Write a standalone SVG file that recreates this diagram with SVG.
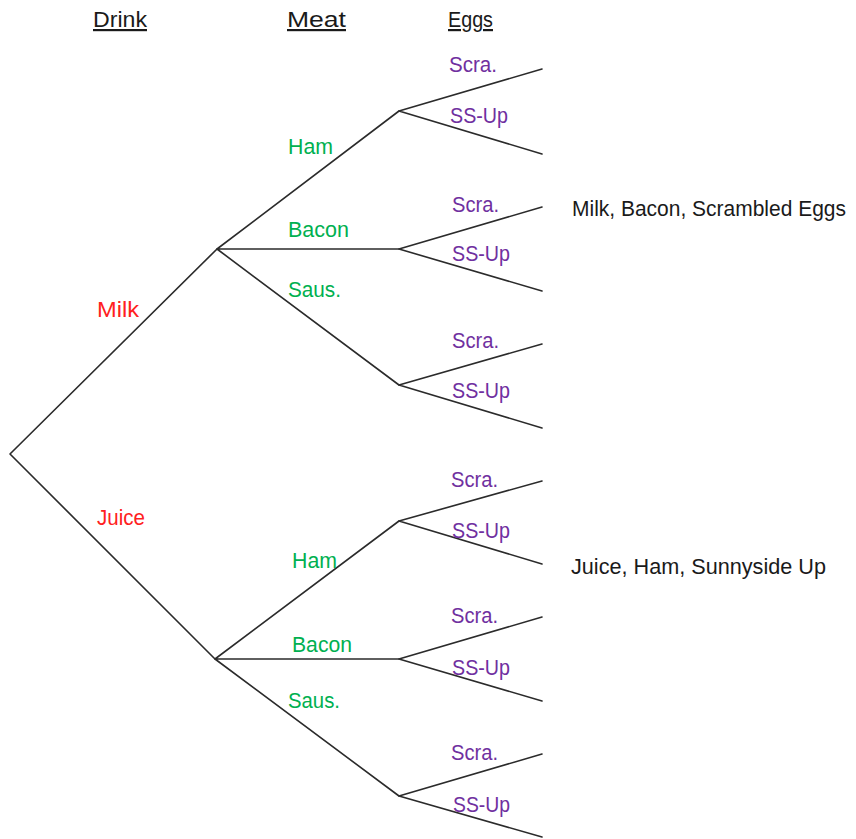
<svg xmlns="http://www.w3.org/2000/svg" width="856" height="839" viewBox="0 0 856 839">
<style>
text{font-family:"Liberation Sans",Arial,sans-serif;font-size:22px}
.hd{fill:#1a1a1a;text-decoration:underline}
.dr{fill:#ff2020}
.mt{fill:#00b050}
.eg{fill:#7030a0}
.res{fill:#1a1a1a}
.ln{stroke:#2b2b2b;stroke-width:1.6;fill:none;stroke-linecap:round}
</style>
<rect width="856" height="839" fill="#fff"/>
<g id="headers">
<text class="hd" x="93" y="27" textLength="54" lengthAdjust="spacingAndGlyphs">Drink</text>
<text class="hd" x="287" y="27" textLength="59" lengthAdjust="spacingAndGlyphs">Meat</text>
<text class="hd" x="448" y="27" textLength="45" lengthAdjust="spacingAndGlyphs">Eggs</text>
</g>
<g id="connectors" class="ln">
<path d="M10,454 L217,249 M10,454 L215,659"/>
<path d="M217,249 L399,111 M217,249 L399,249 M217,249 L399,385"/>
<path d="M215,659 L399,521 M215,659 L399,659 M215,659 L399,796"/>
<path d="M399,111 L542,69 M399,111 L542,154"/>
<path d="M399,249 L542,207 M399,249 L542,291"/>
<path d="M399,385 L542,344 M399,385 L542,428"/>
<path d="M399,521 L542,481 M399,521 L542,564"/>
<path d="M399,659 L542,617 M399,659 L542,701"/>
<path d="M399,796 L542,754 M399,796 L542,837"/>
</g>
<g id="drink-labels">
<text class="dr" x="97" y="317" textLength="42" lengthAdjust="spacingAndGlyphs">Milk</text>
<text class="dr" x="97" y="525" textLength="48" lengthAdjust="spacingAndGlyphs">Juice</text>
</g>
<g id="meat-labels">
<text class="mt" x="288" y="154" textLength="45" lengthAdjust="spacingAndGlyphs">Ham</text>
<text class="mt" x="288" y="237" textLength="61" lengthAdjust="spacingAndGlyphs">Bacon</text>
<text class="mt" x="288" y="297" textLength="53" lengthAdjust="spacingAndGlyphs">Saus.</text>
<text class="mt" x="292" y="568" textLength="45" lengthAdjust="spacingAndGlyphs">Ham</text>
<text class="mt" x="292" y="652" textLength="60" lengthAdjust="spacingAndGlyphs">Bacon</text>
<text class="mt" x="288" y="708" textLength="52" lengthAdjust="spacingAndGlyphs">Saus.</text>
</g>
<g id="egg-labels">
<text class="eg" x="449" y="72" textLength="48" lengthAdjust="spacingAndGlyphs">Scra.</text>
<text class="eg" x="450" y="123" textLength="58" lengthAdjust="spacingAndGlyphs">SS-Up</text>
<text class="eg" x="452" y="212" textLength="47" lengthAdjust="spacingAndGlyphs">Scra.</text>
<text class="eg" x="452" y="261" textLength="58" lengthAdjust="spacingAndGlyphs">SS-Up</text>
<text class="eg" x="452" y="348" textLength="47" lengthAdjust="spacingAndGlyphs">Scra.</text>
<text class="eg" x="452" y="398" textLength="58" lengthAdjust="spacingAndGlyphs">SS-Up</text>
<text class="eg" x="451" y="487" textLength="47" lengthAdjust="spacingAndGlyphs">Scra.</text>
<text class="eg" x="452" y="538" textLength="58" lengthAdjust="spacingAndGlyphs">SS-Up</text>
<text class="eg" x="451" y="623" textLength="47" lengthAdjust="spacingAndGlyphs">Scra.</text>
<text class="eg" x="452" y="675" textLength="58" lengthAdjust="spacingAndGlyphs">SS-Up</text>
<text class="eg" x="451" y="760" textLength="47" lengthAdjust="spacingAndGlyphs">Scra.</text>
<text class="eg" x="453" y="812" textLength="57" lengthAdjust="spacingAndGlyphs">SS-Up</text>
</g>
<g id="results">
<text class="res" x="572" y="216" font-size="20.5" textLength="274" lengthAdjust="spacingAndGlyphs">Milk, Bacon, Scrambled Eggs</text>
<text class="res" x="571" y="574" textLength="255" lengthAdjust="spacingAndGlyphs">Juice, Ham, Sunnyside Up</text>
</g>
</svg>
